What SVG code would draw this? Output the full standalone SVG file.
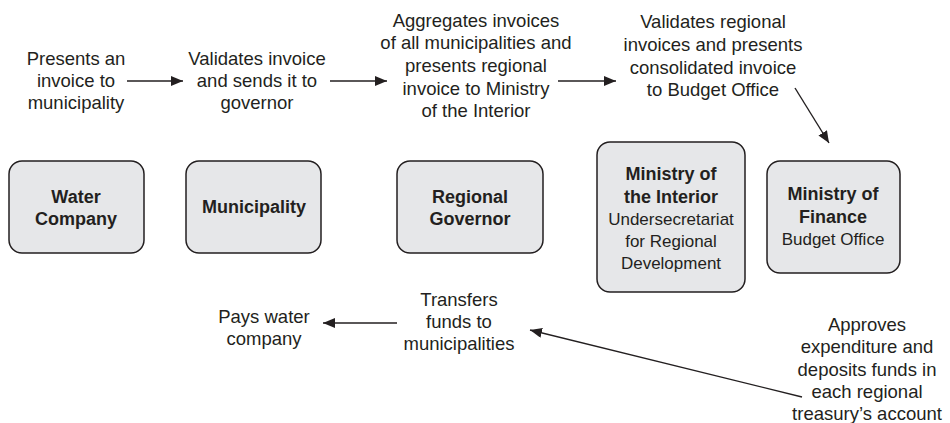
<svg xmlns="http://www.w3.org/2000/svg" width="950" height="423" viewBox="0 0 950 423">
<style>
.t{font-family:"Liberation Sans",Arial,sans-serif;font-size:18.5px;fill:#231f20;text-anchor:middle}
.r{font-size:17px}
.b{font-weight:bold;font-size:18px}
.box{fill:#e6e7e9;stroke:#231f20;stroke-width:1.5}
.c{stroke:#231f20;stroke-width:1.4;fill:none;marker-end:url(#ah)}
</style>
<defs>
<marker id="ah" viewBox="0 0 12 10" refX="12" refY="5" markerWidth="12" markerHeight="10" markerUnits="userSpaceOnUse" orient="auto">
<path d="M0,0 L12,5 L0,10 Z" fill="#231f20"/>
</marker>
</defs>
<rect width="950" height="423" fill="#fff"/>
<g id="water-company">
<rect class="box" x="9" y="161" width="135" height="92" rx="13"/>
<text class="t b" x="76" y="203">Water</text>
<text class="t b" x="76" y="225">Company</text>
</g>
<g id="municipality">
<rect class="box" x="186" y="161" width="135" height="92" rx="13"/>
<text class="t b" x="254" y="213">Municipality</text>
</g>
<g id="regional-governor">
<rect class="box" x="397" y="161" width="146" height="92" rx="13"/>
<text class="t b" x="470" y="203">Regional</text>
<text class="t b" x="470" y="225">Governor</text>
</g>
<g id="ministry-interior">
<rect class="box" x="597" y="142" width="148" height="150" rx="13"/>
<text class="t b" x="671" y="180">Ministry of</text>
<text class="t b" x="671" y="203">the Interior</text>
<text class="t r" x="671" y="225">Undersecretariat</text>
<text class="t r" x="671" y="247">for Regional</text>
<text class="t r" x="671" y="269">Development</text>
</g>
<g id="ministry-finance">
<rect class="box" x="767" y="161" width="133" height="112" rx="13"/>
<text class="t b" x="833" y="200">Ministry of</text>
<text class="t b" x="833" y="223">Finance</text>
<text class="t r" x="833" y="245">Budget Office</text>
</g>
<g id="labels">
<text class="t" x="76" y="65">Presents an</text>
<text class="t" x="76" y="87">invoice to</text>
<text class="t" x="76" y="109">municipality</text>
<text class="t" x="257" y="65">Validates invoice</text>
<text class="t" x="257" y="87">and sends it to</text>
<text class="t" x="257" y="109">governor</text>
<text class="t" x="476" y="27">Aggregates invoices</text>
<text class="t" x="476" y="49">of all municipalities and</text>
<text class="t" x="476" y="72">presents regional</text>
<text class="t" x="476" y="95">invoice to Ministry</text>
<text class="t" x="476" y="117">of the Interior</text>
<text class="t" x="713" y="28">Validates regional</text>
<text class="t" x="713" y="51">invoices and presents</text>
<text class="t" x="713" y="74">consolidated invoice</text>
<text class="t" x="713" y="96">to Budget Office</text>
<text class="t" x="264" y="323">Pays water</text>
<text class="t" x="264" y="345">company</text>
<text class="t" x="459" y="306">Transfers</text>
<text class="t" x="459" y="328">funds to</text>
<text class="t" x="459" y="350">municipalities</text>
<text class="t" x="867" y="331">Approves</text>
<text class="t" x="867" y="353">expenditure and</text>
<text class="t" x="867" y="376">deposits funds in</text>
<text class="t" x="867" y="398">each regional</text>
<text class="t" x="867" y="420">treasury’s account</text>
</g>
<g id="connectors">
<line class="c" x1="127" y1="81" x2="183" y2="81"/>
<line class="c" x1="330" y1="81" x2="387" y2="81"/>
<line class="c" x1="558" y1="81" x2="616" y2="81"/>
<line class="c" x1="795" y1="88" x2="829" y2="143"/>
<line class="c" x1="397" y1="323" x2="323" y2="323"/>
<line class="c" x1="802" y1="397" x2="530" y2="330"/>
</g>
</svg>
